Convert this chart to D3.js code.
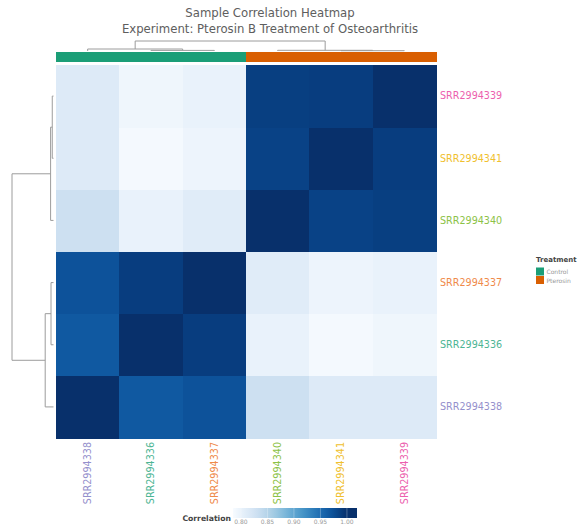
<!DOCTYPE html>
<html>
<head>
<meta charset="utf-8">
<script src="https://cdn.jsdelivr.net/npm/d3@7"></script>
<style>
  html, body { margin: 0; padding: 0; background: #fff; }
  svg { display: block; font-family: "DejaVu Sans", sans-serif; }
</style>
</head>
<body>
<svg id="chart" width="581" height="529"></svg>
<script>
// Samples in clustered (column) order
const samples = ["SRR2994338", "SRR2994336", "SRR2994337", "SRR2994340", "SRR2994341", "SRR2994339"];
const treatment = ["Control", "Control", "Control", "Pterosin", "Pterosin", "Pterosin"];
const sampleColors = ["#9590cc", "#4db594", "#ef8a4a", "#8cc247", "#f0c02e", "#ec5fae"];
const treatmentNames = ["Control", "Pterosin"];
const treatmentColors = ["#1b9e77", "#d95f02"];

// Pearson correlation between samples, same order as `samples`
const correlation = [
  [1.000, 0.966, 0.972, 0.830, 0.813, 0.813],
  [0.966, 1.000, 0.989, 0.800, 0.788, 0.794],
  [0.972, 0.989, 1.000, 0.810, 0.796, 0.800],
  [0.830, 0.800, 0.810, 1.000, 0.985, 0.988],
  [0.813, 0.788, 0.796, 0.985, 1.000, 0.989],
  [0.813, 0.794, 0.800, 0.988, 0.989, 1.000]
];

// Hierarchical clustering linkage: [childA, childB, height]; new clusters get ids 6, 7, ...
const linkage = [
  [1, 2, 0.06],
  [4, 5, 0.03],
  [0, 6, 0.20],
  [3, 7, 0.07],
  [8, 9, 1.00]
];

const colorTicks = [0.80, 0.85, 0.90, 0.95, 1.00];
const colorDomain = [0.785, 1.0];
const colorbarDomain = [0.785, 1.019];

const svg = d3.select("#chart");

// Heatmap geometry
const hm = { left: 56, right: 436, top: 65, bottom: 438 };
const x = d3.scaleBand().domain(samples).range([hm.left, hm.right]);
const rowOrder = samples.slice().reverse();
const y = d3.scaleBand().domain(rowOrder).range([hm.top, hm.bottom]);
const color = d3.scaleSequential(d3.interpolateBlues).domain(colorDomain).clamp(true);

// Title
const title = svg.append("g").attr("fill", "#5e5e5e").attr("font-size", "11.7px").attr("text-anchor", "middle");
title.append("text").attr("x", 270).attr("y", 17).text("Sample Correlation Heatmap");
title.append("text").attr("x", 270).attr("y", 33).text("Experiment: Pterosin B Treatment of Osteoarthritis");

// Cells
const cells = [];
samples.forEach((r, i) => samples.forEach((c, j) => cells.push({ row: r, col: c, v: correlation[i][j] })));
svg.append("g").attr("shape-rendering", "crispEdges")
  .selectAll("rect").data(cells).join("rect")
  .attr("x", d => x(d.col))
  .attr("y", d => y(d.row))
  .attr("width", x.bandwidth() + 0.6)
  .attr("height", y.bandwidth() + 0.6)
  .attr("fill", d => color(d.v));

// Treatment annotation bar above the columns
svg.append("g").attr("shape-rendering", "crispEdges")
  .selectAll("rect").data(samples).join("rect")
  .attr("x", d => x(d))
  .attr("y", 51.7)
  .attr("width", x.bandwidth() + 0.6)
  .attr("height", 10.6)
  .attr("fill", (d, i) => treatmentColors[treatmentNames.indexOf(treatment[i])]);

// Dendrogram node positions: leaves from a band scale, clusters at the midpoint of their children
function allNodes(posOf) {
  const nodes = samples.map(s => ({ pos: posOf(s), h: 0 }));
  linkage.forEach(([a, b, h]) => nodes.push({ a, b, h, pos: (nodes[a].pos + nodes[b].pos) / 2 }));
  return nodes;
}

// Column dendrogram (top)
const topH = d3.scaleLinear().domain([0, 1]).range([51, 41]);
const colNodes = allNodes(s => x(s) + x.bandwidth() / 2);
svg.append("g").attr("fill", "none").attr("stroke", "#9c9c9c").attr("stroke-width", 1)
  .selectAll("path").data(colNodes.filter(n => n.a !== undefined)).join("path")
  .attr("d", n => {
    const A = colNodes[n.a], B = colNodes[n.b];
    return `M${A.pos},${topH(A.h)}V${topH(n.h)}H${B.pos}V${topH(B.h)}`;
  });

// Row dendrogram (left)
const leftH = d3.scaleLinear().domain([0, 1]).range([53.5, 12]);
const rowNodes = allNodes(s => y(s) + y.bandwidth() / 2);
svg.append("g").attr("fill", "none").attr("stroke", "#9c9c9c").attr("stroke-width", 1)
  .selectAll("path").data(rowNodes.filter(n => n.a !== undefined)).join("path")
  .attr("d", n => {
    const A = rowNodes[n.a], B = rowNodes[n.b];
    return `M${leftH(A.h)},${A.pos}H${leftH(n.h)}V${B.pos}H${leftH(B.h)}`;
  });

// Row labels (right)
svg.append("g").attr("font-size", "9.6px")
  .selectAll("text").data(rowOrder).join("text")
  .attr("x", hm.right + 4)
  .attr("y", d => y(d) + y.bandwidth() / 2)
  .attr("dy", "0.35em")
  .attr("fill", d => sampleColors[samples.indexOf(d)])
  .text(d => d);

// Column labels (bottom, rotated)
svg.append("g").attr("font-size", "9.6px").attr("text-anchor", "end")
  .selectAll("text").data(samples).join("text")
  .attr("transform", d => `translate(${x(d) + x.bandwidth() / 2},${hm.bottom + 4}) rotate(-90)`)
  .attr("dy", "0.35em")
  .attr("fill", (d, i) => sampleColors[i])
  .text(d => d);

// Treatment legend
const legend = svg.append("g").attr("transform", "translate(536,0)");
legend.append("text").attr("x", 0).attr("y", 262).attr("font-size", "7px").attr("font-weight", "bold")
  .attr("fill", "#444").text("Treatment");
treatmentNames.forEach((name, i) => {
  legend.append("rect").attr("x", 0).attr("y", 267.5 + i * 8.5).attr("width", 8).attr("height", 8)
    .attr("fill", treatmentColors[i]);
  legend.append("text").attr("x", 10.5).attr("y", 274 + i * 8.5).attr("font-size", "6px")
    .attr("fill", "#999").text(name);
});

// Colour bar
const cb = { left: 233, right: 357, top: 508, height: 10 };
const cbx = d3.scaleLinear().domain(colorbarDomain).range([cb.left, cb.right]);
const defs = svg.append("defs");
const grad = defs.append("linearGradient").attr("id", "cbGrad").attr("x1", "0%").attr("x2", "100%");
d3.range(0, 1.0001, 0.05).forEach(t => {
  const v = colorbarDomain[0] + t * (colorbarDomain[1] - colorbarDomain[0]);
  grad.append("stop").attr("offset", `${t * 100}%`).attr("stop-color", color(v));
});
svg.append("rect").attr("x", cb.left).attr("y", cb.top).attr("width", cb.right - cb.left)
  .attr("height", cb.height).attr("fill", "url(#cbGrad)");
svg.append("g").selectAll("line").data(colorTicks).join("line")
  .attr("x1", d => cbx(d)).attr("x2", d => cbx(d))
  .attr("y1", cb.top).attr("y2", cb.top + cb.height)
  .attr("stroke", "#fff").attr("stroke-opacity", 0.35).attr("stroke-width", 0.8);
svg.append("g").attr("font-size", "6px").attr("fill", "#9a9a9a").attr("text-anchor", "middle")
  .selectAll("text").data(colorTicks).join("text")
  .attr("x", d => cbx(d)).attr("y", 524)
  .text(d3.format(".2f"));
svg.append("text").attr("x", cb.left - 2).attr("y", 520.5).attr("text-anchor", "end")
  .attr("font-size", "7.7px").attr("font-weight", "bold").attr("fill", "#444").text("Correlation");
</script>
</body>
</html>
